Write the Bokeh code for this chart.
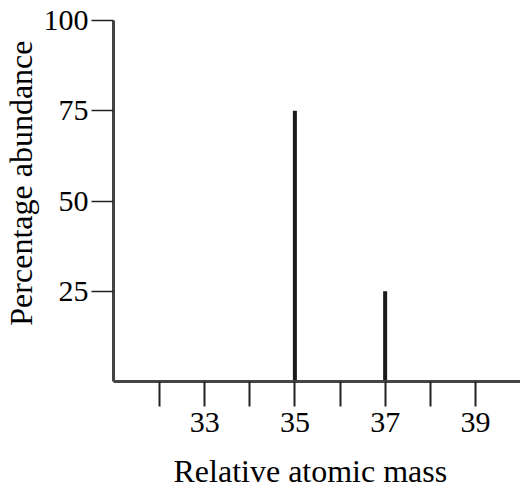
from bokeh.plotting import figure
from bokeh.models import Range1d, FixedTicker, Title
from bokeh.embed import file_html
from bokeh.resources import INLINE

# Data
masses = [35, 37]
abundance = [75, 25]
x_ticks = [32, 33, 34, 35, 36, 37, 38, 39]
x_tick_labels = ["", "33", "", "35", "", "37", "", "39"]
y_ticks = [25, 50, 75, 100]
x_title = "Relative atomic mass"
y_title = "Percentage abundance"

FONT = "Liberation Serif"

p = figure(width=520, height=488, output_backend="svg", toolbar_location=None,
           x_range=Range1d(30.98, 40.0), y_range=Range1d(0, 100),
           min_border_left=113, min_border_right=0, min_border_top=20, min_border_bottom=107)

p.segment(x0=masses, y0=[0] * len(masses), x1=masses, y1=abundance,
          line_width=4, line_color="#1a1a1a")

p.grid.visible = False
p.outline_line_color = None
p.background_fill_color = "white"
p.border_fill_color = "white"

xa = p.xaxis[0]
xa.ticker = FixedTicker(ticks=x_ticks, minor_ticks=[])
xa.major_label_overrides = {t: l for t, l in zip(x_ticks, x_tick_labels)}
xa.major_tick_out = 25
xa.major_tick_in = 0
xa.major_tick_line_width = 2
xa.major_tick_line_color = "#222222"
xa.minor_tick_line_color = None
xa.axis_line_width = 3
xa.axis_line_color = "#444444"
xa.major_label_text_font = FONT
xa.major_label_text_font_size = "30px"
xa.major_label_text_color = "black"
xa.major_label_standoff = 6
# tiny blank axis label acts as a spacer before the title
xa.axis_label = " "
xa.axis_label_text_font_size = "2px"
xa.axis_label_standoff = 11

ya = p.yaxis[0]
ya.ticker = FixedTicker(ticks=y_ticks, minor_ticks=[])
ya.major_tick_out = 22
ya.major_tick_in = 0
ya.major_tick_line_width = 1.5
ya.major_tick_line_color = "#222222"
ya.minor_tick_line_color = None
ya.axis_line_width = 3
ya.axis_line_color = "#444444"
ya.major_label_text_font = FONT
ya.major_label_text_font_size = "30px"
ya.major_label_text_color = "black"
ya.major_label_standoff = 3

# axis titles as side-panel titles (offset from frame centre like the reference)
p.add_layout(Title(text=x_title, align="left", offset=60, vertical_align="bottom",
                   standoff=0, text_font=FONT, text_font_size="32px",
                   text_font_style="normal", text_color="black"), "below")
p.add_layout(Title(text=y_title, align="right", offset=20, vertical_align="top",
                   standoff=0, text_font=FONT, text_font_size="32px",
                   text_font_style="normal", text_color="black"), "left")

open("out.html", "w").write(file_html(p, INLINE))
